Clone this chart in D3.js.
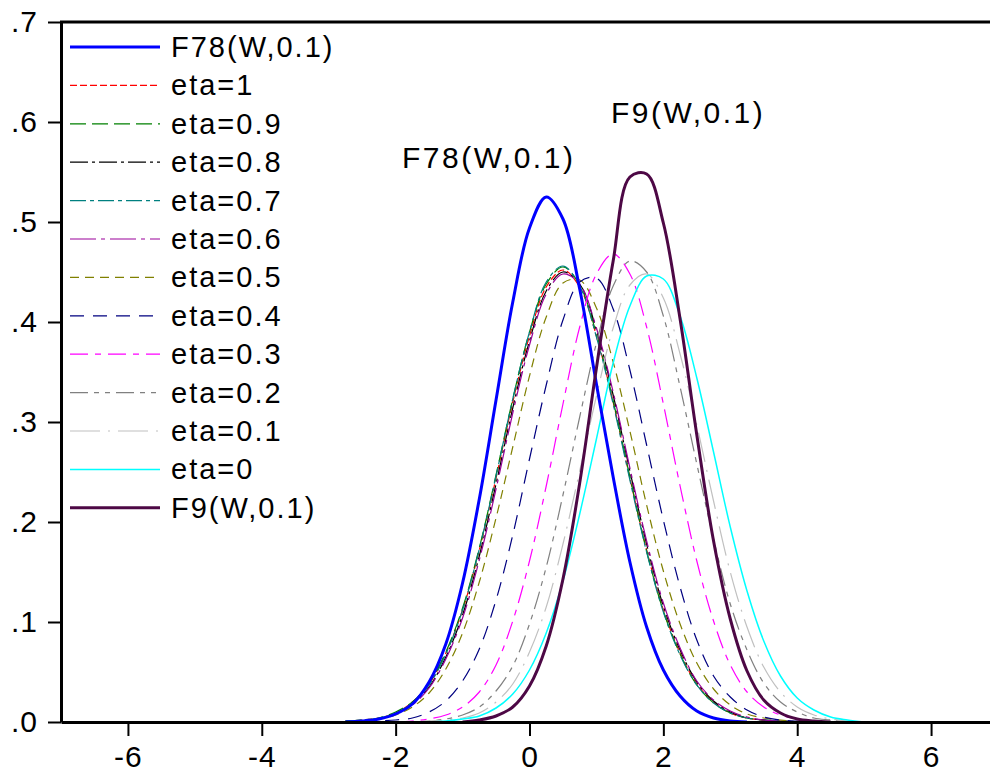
<!DOCTYPE html>
<html>
<head>
<meta charset="utf-8">
<script src="https://cdn.jsdelivr.net/npm/d3@7"></script>
<style>
  body { margin: 0; background: #fff; }
  text { font-family: Arial, "Liberation Sans", sans-serif; fill: #000; }
</style>
</head>
<body>
<div id="chart"></div>
<script>
var svgWidth = 990;
var svgHeight = 775;

// x grid shared by every density curve
var xGrid = [-2.75, -2.5, -2.25, -2, -1.75, -1.5, -1.25, -1, -0.75, -0.5, -0.25, 0, 0.25, 0.5, 0.75, 1,
  1.25, 1.5, 1.75, 2, 2.25, 2.5, 2.75, 3, 3.25, 3.5, 3.75, 4, 4.25, 4.5, 4.75, 5];

// density values
var f78 = [0, 0.001, 0.003, 0.008, 0.018, 0.040, 0.078, 0.139, 0.223, 0.322, 0.420, 0.494, 0.525, 0.503, 0.433, 0.338,
  0.245, 0.160, 0.095, 0.052, 0.026, 0.011, 0.004, 0.001, 0, 0, 0, 0, 0, 0, 0, 0];
var eta10 = [0.001, 0.002, 0.004, 0.009, 0.020, 0.038, 0.069, 0.112, 0.172, 0.244, 0.320, 0.386, 0.435, 0.452, 0.435, 0.386,
  0.320, 0.244, 0.172, 0.112, 0.069, 0.038, 0.020, 0.009, 0.004, 0.002, 0.001, 0, 0, 0, 0, 0];
var eta09 = [0.001, 0.002, 0.004, 0.010, 0.020, 0.039, 0.070, 0.114, 0.174, 0.247, 0.323, 0.390, 0.438, 0.455, 0.437, 0.388,
  0.321, 0.245, 0.171, 0.111, 0.068, 0.037, 0.019, 0.009, 0.004, 0.002, 0.001, 0, 0, 0, 0, 0];
var eta08 = [0, 0.001, 0.003, 0.008, 0.018, 0.035, 0.065, 0.107, 0.166, 0.238, 0.314, 0.381, 0.431, 0.450, 0.438, 0.392,
  0.327, 0.251, 0.178, 0.116, 0.072, 0.040, 0.021, 0.010, 0.004, 0.002, 0.001, 0, 0, 0, 0, 0];
var eta07 = [0.001, 0.002, 0.004, 0.009, 0.019, 0.037, 0.068, 0.112, 0.173, 0.246, 0.323, 0.390, 0.440, 0.456, 0.436, 0.385,
  0.318, 0.242, 0.170, 0.110, 0.067, 0.037, 0.019, 0.009, 0.004, 0.002, 0.001, 0, 0, 0, 0, 0];
var eta06 = [0, 0.001, 0.003, 0.008, 0.017, 0.034, 0.063, 0.104, 0.162, 0.233, 0.309, 0.377, 0.428, 0.448, 0.438, 0.394,
  0.330, 0.254, 0.181, 0.119, 0.074, 0.041, 0.022, 0.011, 0.005, 0.002, 0.001, 0, 0, 0, 0, 0];
var eta05 = [0, 0.001, 0.003, 0.007, 0.015, 0.029, 0.053, 0.089, 0.140, 0.204, 0.275, 0.346, 0.405, 0.439, 0.442, 0.414,
  0.360, 0.291, 0.217, 0.151, 0.098, 0.059, 0.033, 0.017, 0.008, 0.004, 0.002, 0, 0, 0, 0, 0];
var eta04 = [0, 0, 0.001, 0.002, 0.004, 0.010, 0.021, 0.041, 0.073, 0.122, 0.187, 0.263, 0.337, 0.402, 0.440, 0.444,
  0.413, 0.352, 0.277, 0.202, 0.135, 0.082, 0.046, 0.025, 0.012, 0.005, 0.002, 0.001, 0, 0, 0, 0];
var eta03 = [0, 0, 0, 0, 0.001, 0.003, 0.007, 0.015, 0.030, 0.057, 0.101, 0.161, 0.236, 0.318, 0.395, 0.448,
  0.468, 0.448, 0.395, 0.318, 0.236, 0.161, 0.101, 0.057, 0.030, 0.015, 0.007, 0.003, 0.001, 0, 0, 0];
var eta02 = [0, 0, 0, 0, 0, 0.001, 0.003, 0.007, 0.015, 0.031, 0.056, 0.098, 0.155, 0.227, 0.305, 0.379,
  0.436, 0.461, 0.450, 0.406, 0.335, 0.258, 0.183, 0.118, 0.072, 0.039, 0.020, 0.010, 0.004, 0.002, 0, 0];
var eta01 = [0, 0, 0, 0, 0, 0.001, 0.002, 0.004, 0.009, 0.020, 0.038, 0.070, 0.115, 0.178, 0.251, 0.326,
  0.394, 0.437, 0.448, 0.424, 0.368, 0.297, 0.221, 0.150, 0.095, 0.055, 0.030, 0.015, 0.007, 0.003, 0.001, 0];
var eta00 = [0, 0, 0, 0, 0, 0, 0.001, 0.003, 0.006, 0.014, 0.028, 0.052, 0.089, 0.141, 0.208, 0.283,
  0.359, 0.416, 0.446, 0.443, 0.406, 0.344, 0.270, 0.195, 0.131, 0.081, 0.046, 0.024, 0.012, 0.005, 0.002, 0];
var f9 = [0, 0, 0, 0, 0, 0, 0, 0, 0.002, 0.006, 0.015, 0.036, 0.076, 0.143, 0.239, 0.354,
  0.461, 0.545, 0.548, 0.499, 0.403, 0.287, 0.181, 0.103, 0.051, 0.022, 0.009, 0.003, 0.001, 0, 0, 0];

var seriesNames = ["F78(W,0.1)", "eta=1", "eta=0.9", "eta=0.8", "eta=0.7", "eta=0.6", "eta=0.5",
  "eta=0.4", "eta=0.3", "eta=0.2", "eta=0.1", "eta=0", "F9(W,0.1)"];
var seriesValues = [f78, eta10, eta09, eta08, eta07, eta06, eta05, eta04, eta03, eta02, eta01, eta00, f9];

var xTicks = [-6, -4, -2, 0, 2, 4, 6];
var yTicks = [0, 0.1, 0.2, 0.3, 0.4, 0.5, 0.6, 0.7];

// line styles for each series, same order as names
var colors = ["#0000ff", "#ff0000", "#008000", "#000000", "#008080", "#990099", "#808000",
  "#000080", "#ff00ff", "#808080", "#c0c0c0", "#00ffff", "#4d0845"];
var dashes = [null, "7,3", "16,6", "18,4,3,4", "16,4,4,4", "26,5,4,5", "9,6",
  "14,9", "18,7,6,7", "18,6,5,6,5,6", "30,8,2,8", null, null];
var widths = [3, 1.2, 1.2, 1.2, 1.2, 1.2, 1.2, 1.2, 1.2, 1.2, 1.2, 1.5, 3];

var svg = d3.select("#chart")
  .append("svg")
  .attr("width", svgWidth)
  .attr("height", svgHeight);

var x = d3.scaleLinear().domain([-7, 7]).range([61, 998]);
var y = d3.scaleLinear().domain([0, 0.7]).range([722, 22]);

var line = d3.line()
  .x(d => x(d[0]))
  .y(d => y(Math.max(0, d[1])))
  .curve(d3.curveCatmullRom.alpha(0.5));

// keep one zero point on each side of the non zero part
function trimmed(vals) {
  var first = vals.findIndex(v => v > 0);
  var last = vals.length - 1;
  while (last > 0 && vals[last] <= 0) last--;
  var a = Math.max(0, first - 1), b = Math.min(vals.length - 1, last + 1);
  var pts = [];
  for (var i = a; i <= b; i++) pts.push([xGrid[i], vals[i]]);
  return pts;
}

// draw eta curves first, then the two thick ones on top
var drawOrder = [1, 2, 3, 4, 5, 6, 7, 8, 9, 10, 11, 0, 12];
var curves = svg.append("g");
drawOrder.forEach(function(i) {
  curves.append("path")
    .attr("d", line(trimmed(seriesValues[i])))
    .attr("fill", "none")
    .attr("stroke", colors[i])
    .attr("stroke-width", widths[i])
    .attr("stroke-dasharray", dashes[i])
    .attr("stroke-linejoin", "round");
});

// axes
var bottomAxis = d3.axisBottom(x)
  .tickValues(xTicks)
  .tickFormat(d => String(d))
  .tickSize(14)
  .tickPadding(10)
  .tickSizeOuter(0);
var leftAxis = d3.axisLeft(y)
  .tickValues(yTicks)
  .tickFormat(d => d3.format(".1f")(d).replace(/^0/, ""))
  .tickSize(13)
  .tickPadding(10)
  .tickSizeOuter(0);

var gx = svg.append("g")
  .attr("transform", "translate(0,722)")
  .call(bottomAxis);
var gy = svg.append("g")
  .attr("transform", "translate(61,0)")
  .call(leftAxis);

[gx, gy].forEach(function(g) {
  g.select(".domain").attr("stroke", "#000").attr("stroke-width", 3);
  g.selectAll(".tick line").attr("stroke", "#000").attr("stroke-width", 2);
  g.selectAll(".tick text")
    .attr("font-family", "Arial, 'Liberation Sans', sans-serif")
    .attr("font-size", 30)
    .style("letter-spacing", "1px")
    .attr("fill", "#000");
});

// top frame line
svg.append("line")
  .attr("x1", 60).attr("x2", svgWidth)
  .attr("y1", y(0.7)).attr("y2", y(0.7))
  .attr("stroke", "#000")
  .attr("stroke-width", 3);

// legend
var legend = svg.append("g");
seriesNames.forEach(function(name, i) {
  var ly = 47 + i * 38.4;
  legend.append("line")
    .attr("x1", 70).attr("x2", 160)
    .attr("y1", ly).attr("y2", ly)
    .attr("stroke", colors[i])
    .attr("stroke-width", widths[i])
    .attr("stroke-dasharray", dashes[i]);
  legend.append("text")
    .attr("x", 171)
    .attr("y", ly + 10)
    .attr("font-size", 29)
    .style("letter-spacing", "2px")
    .text(name);
});

// curve labels
svg.append("text")
  .attr("x", 402).attr("y", 168)
  .attr("font-size", 30)
  .style("letter-spacing", "2.5px")
  .text("F78(W,0.1)");
svg.append("text")
  .attr("x", 611).attr("y", 123)
  .attr("font-size", 30)
  .style("letter-spacing", "2.5px")
  .text("F9(W,0.1)");
</script>
</body>
</html>
